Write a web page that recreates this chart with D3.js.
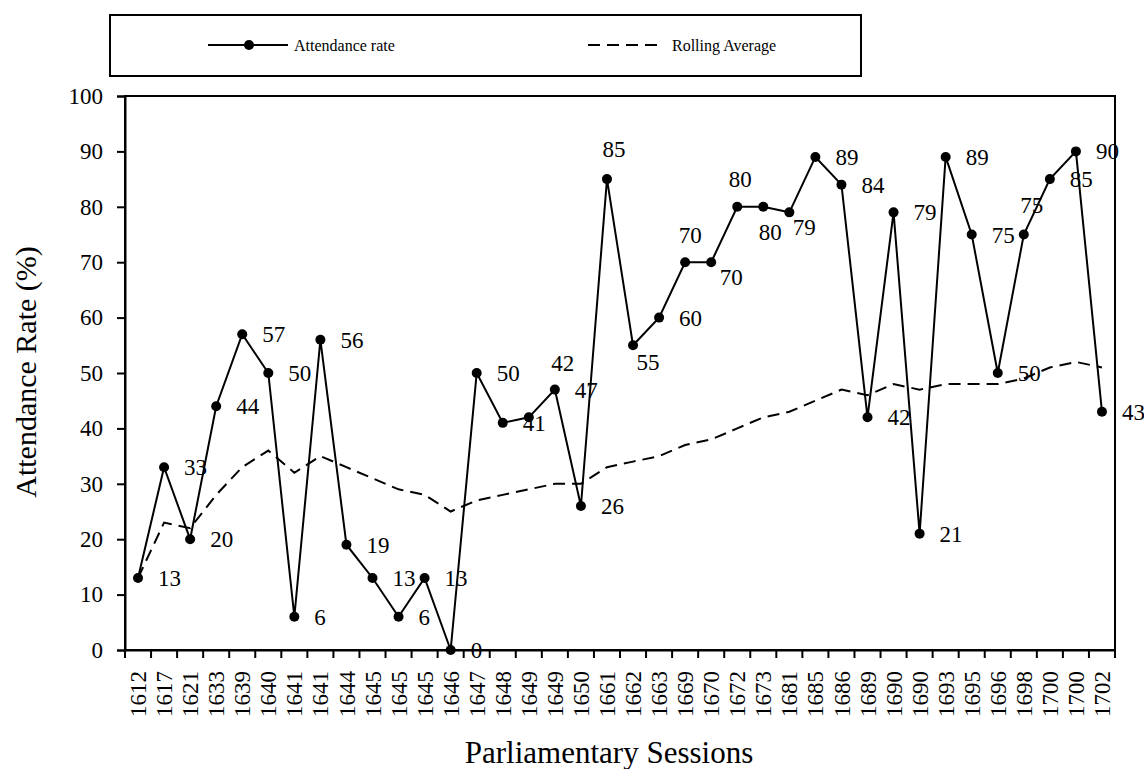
<!DOCTYPE html>
<html><head><meta charset="utf-8">
<script src="https://cdn.jsdelivr.net/npm/d3@7"></script>
<style>body{margin:0;background:#fff}svg{display:block}</style>
</head><body><svg id="c" width="1144" height="769"></svg>
<script>
const sessions = ["1612","1617","1621","1633","1639","1640","1641","1641","1644","1645","1645","1645","1646","1647","1648","1649","1649","1650","1661","1662","1663","1669","1670","1672","1673","1681","1685","1686","1689","1690","1690","1693","1695","1696","1698","1700","1700","1702"];
const attendance = [13,33,20,44,57,50,6,56,19,13,6,13,0,50,41,42,47,26,85,55,60,70,70,80,80,79,89,84,42,79,21,89,75,50,75,85,90,43];
const rolling = [13,23,22,28,33,36,32,35,33,31,29,28,25,27,28,29,30,30,33,34,35,37,38,40,42,43,45,47,46,48,47,48,48,48,49,51,52,51];
const yTicks = [0,10,20,30,40,50,60,70,80,90,100];
// label placement: default = right of point, otherwise [dx, dy] of label centre
const labelPlace = {15:[34,-54],18:[7,-30],19:[15,17],21:[5,-27],22:[20,15],23:[3,-28],24:[7,25],25:[15,15],34:[8,-30]};

const FONT = "'Liberation Serif', 'Times New Roman', Tinos, serif";
const svg = d3.select("#c");
const m = {l:125, t:96, r:1115, b:650};
const x = d3.scaleBand().domain(d3.range(sessions.length)).range([m.l, m.r]);
const y = d3.scaleLinear().domain([0,100]).range([m.b, m.t]);
const cx = i => x(i) + x.bandwidth()/2;

// frame
svg.append("rect").attr("x",m.l).attr("y",m.t).attr("width",m.r-m.l).attr("height",m.b-m.t)
  .attr("fill","none").attr("stroke","#000").attr("stroke-width",2);

// y axis
const ya = svg.append("g").attr("transform",`translate(${m.l},0)`)
  .call(d3.axisLeft(y).tickValues(yTicks).tickSize(8).tickPadding(14));
ya.select(".domain").attr("stroke-width",2);
ya.selectAll(".tick line").attr("stroke-width",2);
ya.selectAll(".tick text").attr("fill","#000").style("font-size","23px");

// x axis
const xa = svg.append("g").attr("transform",`translate(0,${m.b})`)
  .call(d3.axisBottom(x).tickSize(0).tickFormat(i=>sessions[i]));
xa.select(".domain").attr("stroke-width",2);
xa.selectAll(".tick text").attr("fill","#000").style("font-size","23px")
  .attr("transform","rotate(-90)").attr("text-anchor","end").attr("x",-21).attr("y",0).attr("dy","0.35em");
// ticks between categories
svg.append("g").selectAll("line").data(d3.range(sessions.length+1)).join("line")
  .attr("x1",i=>m.l + i*x.bandwidth()).attr("x2",i=>m.l + i*x.bandwidth())
  .attr("y1",m.b).attr("y2",m.b+8).attr("stroke","#000").attr("stroke-width",2);

// rolling average
svg.append("path").datum(rolling)
  .attr("d", d3.line().x((d,i)=>cx(i)).y(d=>y(d)))
  .attr("fill","none").attr("stroke","#000").attr("stroke-width",2).attr("stroke-dasharray","12,7");

// attendance
svg.append("path").datum(attendance)
  .attr("d", d3.line().x((d,i)=>cx(i)).y(d=>y(d)))
  .attr("fill","none").attr("stroke","#000").attr("stroke-width",2);
svg.append("g").selectAll("circle").data(attendance).join("circle")
  .attr("cx",(d,i)=>cx(i)).attr("cy",d=>y(d)).attr("r",5).attr("fill","#000");

// data labels
svg.append("g").selectAll("text").data(attendance).join("text")
  .style("font-size","23px")
  .attr("x",(d,i)=> labelPlace[i] ? cx(i)+labelPlace[i][0] : cx(i)+20)
  .attr("y",(d,i)=> labelPlace[i] ? y(d)+labelPlace[i][1] : y(d))
  .attr("text-anchor",(d,i)=> labelPlace[i] ? "middle" : "start")
  .attr("dy","0.35em")
  .text(d=>d);

// axis titles
svg.append("text").attr("transform","translate(36,372) rotate(-90)").attr("text-anchor","middle")
  .style("font-size","30px").text("Attendance Rate (%)");
svg.append("text").attr("x",609).attr("y",763).attr("text-anchor","middle")
  .style("font-size","31px").text("Parliamentary Sessions");

// legend
const lg = svg.append("g");
lg.append("rect").attr("x",110).attr("y",15).attr("width",751).attr("height",61)
  .attr("fill","#fff").attr("stroke","#000").attr("stroke-width",2);
lg.append("line").attr("x1",208).attr("x2",288).attr("y1",45).attr("y2",45).attr("stroke","#000").attr("stroke-width",2);
lg.append("circle").attr("cx",249).attr("cy",45).attr("r",5).attr("fill","#000");
lg.append("text").attr("x",294).attr("y",45).attr("dy","0.35em").style("font-size","16px").text("Attendance rate");
lg.append("line").attr("x1",588).attr("x2",664).attr("y1",45).attr("y2",45).attr("stroke","#000").attr("stroke-width",2).attr("stroke-dasharray","12,7");
lg.append("text").attr("x",672).attr("y",45).attr("dy","0.35em").style("font-size","16px").text("Rolling Average");

svg.selectAll("text").style("font-family", FONT, "important");
svg.selectAll("g").attr("font-family", null);
</script></body></html>
